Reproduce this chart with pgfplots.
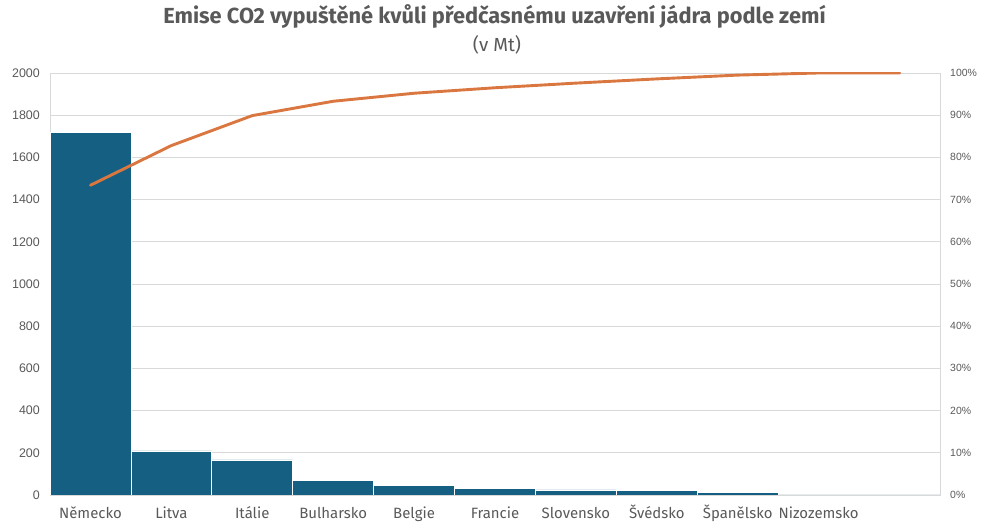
\documentclass[border=0pt]{standalone}
\usepackage{fontspec}
\setmainfont{Fira Sans}
\newfontfamily\lib{Liberation Sans}
\usepackage{pgfplots}
\pgfplotsset{compat=1.18}
\definecolor{barc}{HTML}{156082}
\definecolor{linec}{HTML}{DA763F}
\definecolor{gridc}{HTML}{D9D9D9}
\definecolor{txt}{HTML}{595959}
\begin{document}
\begin{tikzpicture}[x=1bp,y=1bp]
\path[use as bounding box] (0,0) rectangle (992,527);
\begin{axis}[at={(50bp,32bp)}, anchor=south west, scale only axis,
  width=890bp, height=422bp,
  xmin=-0.5, xmax=10.5, ymin=0, ymax=2000,
  xtick={0,...,10},
  xticklabels={Německo,Litva,Itálie,Bulharsko,Belgie,Francie,Slovensko,Švédsko,Španělsko,Nizozemsko,{}},
  ytick={0,200,...,2000},
  ymajorgrids, grid style={gridc, line width=0.75bp},
  axis line style={gridc, line width=0.75bp},
  major tick length=0pt, xtick pos=bottom, ytick pos=left,
  x tick label style={font=\fontsize{15}{17}\selectfont, text=txt, anchor=base, inner sep=0pt, yshift=-24bp},
  y tick label style={font=\lib\fontsize{12.5}{14}\selectfont, text=txt, anchor=east, inner sep=0pt, xshift=-10bp},
  /pgf/number format/assume math mode=true,
  /pgf/number format/1000 sep={},
  ybar, bar width=1,
]
\addplot[fill=barc, draw=white, line width=0.75bp] coordinates {
(0,1718) (1,209) (2,166) (3,71) (4,47) (5,33) (6,24) (7,20) (8,14) (9,0) (10,0)};
\end{axis}
\begin{axis}[at={(50bp,32bp)}, anchor=south west, scale only axis,
  width=890bp, height=422bp,
  xmin=-0.5, xmax=10.5, ymin=0, ymax=100,
  axis y line*=right, axis x line*=bottom, xtick=\empty,
  ytick={0,10,...,100},
  axis line style={gridc, line width=0.75bp, -},
  major tick length=0pt,
  yticklabel={\pgfmathprintnumber{\tick}\%},
  y tick label style={font=\lib\fontsize{10.5}{12}\selectfont, text=txt, anchor=west, inner sep=0pt, xshift=10bp},
  /pgf/number format/assume math mode=true,
]
\addplot[linec, line width=2.9bp, line join=round, line cap=round] coordinates {
(0,73.4) (1,82.8) (2,89.9) (3,93.3) (4,95.2) (5,96.5) (6,97.6) (7,98.6) (8,99.5) (9,100) (10,100)};
\end{axis}
\node[anchor=base, text=txt, font=\bfseries\fontsize{21.9}{26}\selectfont, inner sep=0pt] at (494.5,503) {Emise CO2 vypuštěné kvůli předčasnému uzavření jádra podle zemí};
\node[anchor=base, text=txt, font=\fontsize{19}{22}\selectfont, inner sep=0pt] at (497,475) {(v Mt)};
\end{tikzpicture}
\end{document}
